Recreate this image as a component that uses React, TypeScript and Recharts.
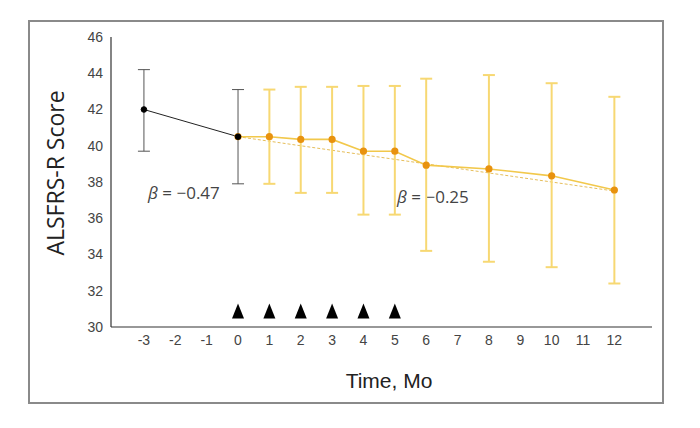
import React from 'react';
import {
  ComposedChart,
  Line,
  Scatter,
  XAxis,
  YAxis,
  ErrorBar,
  Customized,
} from 'recharts';

const xTicks = [-3, -2, -1, 0, 1, 2, 3, 4, 5, 6, 7, 8, 9, 10, 11, 12];
const yTicks = [30, 32, 34, 36, 38, 40, 42, 44, 46];

const preMonths = [-3, 0];
const preMeans = [42.0, 40.5];
const preLow = [39.7, 37.9];
const preHigh = [44.2, 43.1];

const postMonths = [0, 1, 2, 3, 4, 5, 6, 8, 10, 12];
const postMeans = [40.5, 40.5, 40.35, 40.35, 39.7, 39.7, 38.93, 38.72, 38.34, 37.56];
const postLow = [40.5, 37.9, 37.4, 37.4, 36.2, 36.2, 34.2, 33.6, 33.3, 32.4];
const postHigh = [40.5, 43.1, 43.25, 43.25, 43.3, 43.3, 43.7, 43.9, 43.45, 42.7];

const trendMonths = [0, 12];
const trendValues = [40.5, 37.5];

const doseMonths = [0, 1, 2, 3, 4, 5];
const doseLevel = 30.85;

const preData = preMonths.map((m, i) => ({
  month: m,
  score: preMeans[i],
  err: [preMeans[i] - preLow[i], preHigh[i] - preMeans[i]],
}));

const postData = postMonths.map((m, i) => ({
  month: m,
  score: postMeans[i],
  err: [postMeans[i] - postLow[i], postHigh[i] - postMeans[i]],
}));
const postErrData = postData.filter((d) => d.month > 0);

const trendData = trendMonths.map((m, i) => ({ month: m, score: trendValues[i] }));
const doseData = doseMonths.map((m) => ({ month: m, score: doseLevel }));

const Triangle = (props: any) => {
  const { cx, cy } = props;
  if (cx == null || cy == null) return null;
  return (
    <path
      d={`M${cx},${cy - 8} L${cx + 6},${cy + 7} L${cx - 6},${cy + 7} Z`}
      fill="#000"
    />
  );
};

const Annotations = () => (
  <g>
    <text
      x={55}
      y={173}
      transform="rotate(-90 55 173)"
      textAnchor="middle"
      dominantBaseline="central"
      fontFamily="'Open Sans', sans-serif"
      fontSize={23}
      fill="#222"
    >
      ALSFRS-R Score
    </text>
    <text
      x={389}
      y={380}
      textAnchor="middle"
      dominantBaseline="central"
      fontFamily="'Liberation Sans', Arial, sans-serif"
      fontSize={21}
      fill="#222"
    >
      Time, Mo
    </text>
    <text
      x={148}
      y={192}
      dominantBaseline="central"
      fontFamily="'Open Sans', sans-serif"
      fontSize={17}
      fill="#444"
    >
      <tspan fontStyle="italic">β</tspan>
      <tspan>{' = −0.47'}</tspan>
    </text>
    <text
      x={397}
      y={196}
      dominantBaseline="central"
      fontFamily="'Open Sans', sans-serif"
      fontSize={17}
      fill="#444"
    >
      <tspan fontStyle="italic">β</tspan>
      <tspan>{' = −0.25'}</tspan>
    </text>
  </g>
);

export default function App() {
  return (
    <div style={{ position: 'absolute', left: 0, top: 0, width: 700, height: 428, background: '#fff' }}>
      <div
        style={{
          position: 'absolute',
          left: 28,
          top: 20,
          width: 632,
          height: 380,
          border: '2px solid #8a8a8a',
        }}
      />
      <div style={{ position: 'absolute', left: 0, top: 0 }}>
        <ComposedChart
          width={700}
          height={428}
          margin={{ top: 37, right: 48, bottom: 71, left: 0 }}
        >
          <XAxis
            dataKey="month"
            type="number"
            domain={[-4.05, 13.2]}
            ticks={xTicks}
            interval={0}
            allowDataOverflow
            tickLine={false}
            axisLine={{ stroke: '#333', strokeWidth: 1.2 }}
            tick={{ fill: '#444', fontSize: 14, fontFamily: "'Liberation Sans', Arial, sans-serif" }}
            height={30}
          />
          <YAxis
            type="number"
            domain={[30, 46]}
            ticks={yTicks}
            interval={0}
            allowDataOverflow
            tickLine={false}
            axisLine={{ stroke: '#333', strokeWidth: 1.2 }}
            tick={{ fill: '#444', fontSize: 14, fontFamily: "'Liberation Sans', Arial, sans-serif" }}
            width={111}
          />
          <Line
            data={trendData}
            dataKey="score"
            stroke="#e6be5a"
            strokeWidth={1}
            strokeDasharray="3 2"
            dot={false}
            isAnimationActive={false}
          />
          <Scatter
            data={postErrData}
            dataKey="score"
            fill="none"
            shape={() => null}
            isAnimationActive={false}
          >
            <ErrorBar dataKey="err" direction="y" width={6} stroke="#f7d873" strokeWidth={2} />
          </Scatter>
          <Line
            data={postData}
            dataKey="score"
            stroke="#f2c84b"
            strokeWidth={1.6}
            dot={{ r: 2.8, fill: '#e8920f', stroke: '#e8920f' }}
            isAnimationActive={false}
          />
          <Line
            data={preData}
            dataKey="score"
            stroke="#222"
            strokeWidth={1}
            dot={{ r: 2.8, fill: '#000', stroke: '#000' }}
            isAnimationActive={false}
          >
            <ErrorBar dataKey="err" direction="y" width={6} stroke="#555" strokeWidth={1} />
          </Line>
          <Scatter
            data={doseData}
            dataKey="score"
            shape={Triangle}
            isAnimationActive={false}
          />
          <Customized component={Annotations} />
        </ComposedChart>
      </div>
    </div>
  );
}
